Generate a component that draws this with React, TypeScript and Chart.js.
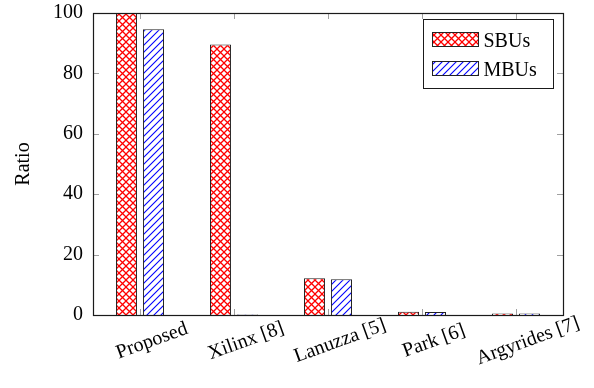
import React, { useEffect, useRef } from "react";
import { Chart, registerables } from "chart.js";

Chart.register(...registerables);

const categories = ["Proposed", "Xilinx [8]", "Lanuzza [5]", "Park [6]", "Argyrides [7]"];
const sbuValues = [100, 89.6, 12.2, 1.1, 0.5];
const mbuValues = [94.6, 0.15, 11.8, 1.0, 0.5];
const yTicks = [0, 20, 40, 60, 80, 100];
const seriesNames = ["SBUs", "MBUs"];
const yTitle = "Ratio";

const FONT = "'Liberation Serif', 'Times New Roman', serif";

function makeCrossPattern(): CanvasPattern | string {
  const c = document.createElement("canvas");
  const s = 7;
  c.width = s;
  c.height = s;
  const g = c.getContext("2d")!;
  g.fillStyle = "#ffffff";
  g.fillRect(0, 0, s, s);
  g.strokeStyle = "#ff0000";
  g.lineWidth = 1.3;
  g.beginPath();
  g.moveTo(-1, -1);
  g.lineTo(s + 1, s + 1);
  g.moveTo(s + 1, -1);
  g.lineTo(-1, s + 1);
  g.stroke();
  return g.createPattern(c, "repeat") || "#ff0000";
}

function makeDiagPattern(): CanvasPattern | string {
  const c = document.createElement("canvas");
  const s = 7;
  c.width = s;
  c.height = s;
  const g = c.getContext("2d")!;
  g.fillStyle = "#ffffff";
  g.fillRect(0, 0, s, s);
  g.strokeStyle = "#0000ff";
  g.lineWidth = 1.1;
  g.beginPath();
  g.moveTo(-1, s + 1);
  g.lineTo(s + 1, -1);
  g.moveTo(-2, 2);
  g.lineTo(2, -2);
  g.moveTo(s - 2, s + 2);
  g.lineTo(s + 2, s - 2);
  g.stroke();
  return g.createPattern(c, "repeat") || "#0000ff";
}

const framePlugin = {
  id: "frameTicks",
  afterDatasetsDraw(chart: any) {
    const { ctx, chartArea } = chart;
    const { left, right, top, bottom } = chartArea;
    const y = chart.scales.y;
    const x = chart.scales.x;
    ctx.save();
    ctx.strokeStyle = "#a0a0a0";
    ctx.lineWidth = 1;
    const tl = 6;
    ctx.beginPath();
    yTicks.forEach((v) => {
      const py = Math.round(y.getPixelForValue(v)) + 0.5;
      ctx.moveTo(left, py);
      ctx.lineTo(left + tl, py);
      ctx.moveTo(right, py);
      ctx.lineTo(right - tl, py);
    });
    categories.forEach((_, i) => {
      const px = Math.round(x.getPixelForTick(i)) + 0.5;
      ctx.moveTo(px, bottom);
      ctx.lineTo(px, bottom - tl);
      ctx.moveTo(px, top);
      ctx.lineTo(px, top + tl);
    });
    ctx.stroke();
    ctx.strokeStyle = "#1a1a1a";
    ctx.lineWidth = 1.2;
    ctx.strokeRect(Math.round(left) + 0.5, Math.round(top) + 0.5, Math.round(right - left), Math.round(bottom - top));
    ctx.restore();

    // x labels (rotated, centered)
    ctx.save();
    ctx.fillStyle = "#000";
    ctx.font = `20px ${FONT}`;
    ctx.textAlign = "center";
    ctx.textBaseline = "middle";
    categories.forEach((lab, i) => {
      const px = x.getPixelForTick(i);
      ctx.save();
      ctx.translate(px + 12, bottom + 26);
      ctx.rotate((-20 * Math.PI) / 180);
      ctx.fillText(lab, 0, 0);
      ctx.restore();
    });
    ctx.restore();
  },
  afterDraw(chart: any) {
    const { ctx, chartArea } = chart;
    const bx = Math.round(chartArea.right) - 140 + 0.5;
    const by = Math.round(chartArea.top) + 6 + 0.5;
    const bw = 130;
    const bh = 69;
    ctx.save();
    ctx.fillStyle = "#fff";
    ctx.fillRect(bx, by, bw, bh);
    ctx.strokeStyle = "#1a1a1a";
    ctx.lineWidth = 1;
    ctx.strokeRect(bx, by, bw, bh);
    chart.data.datasets.forEach((ds: any, i: number) => {
      const sy = by + 13 + i * 29;
      ctx.fillStyle = ds.backgroundColor;
      ctx.fillRect(bx + 9, sy, 46, 14);
      ctx.strokeStyle = "#222";
      ctx.strokeRect(bx + 9, sy, 46, 14);
      ctx.fillStyle = "#000";
      ctx.font = `20px ${FONT}`;
      ctx.textAlign = "left";
      ctx.textBaseline = "alphabetic";
      ctx.fillText(ds.label, bx + 60, sy + 14);
    });
    ctx.restore();
  },
};

export default function App() {
  const ref = useRef<HTMLCanvasElement>(null);
  useEffect(() => {
    document.body.style.margin = "0";
    const canvas = ref.current!;
    const chart = new Chart(canvas, {
      type: "bar",
      data: {
        labels: categories,
        datasets: [
          {
            label: seriesNames[0],
            data: sbuValues,
            backgroundColor: makeCrossPattern() as any,
            borderColor: "#222",
            borderWidth: 1,
            categoryPercentage: 0.574,
            barPercentage: 0.78,
          },
          {
            label: seriesNames[1],
            data: mbuValues,
            backgroundColor: makeDiagPattern() as any,
            borderColor: "#222",
            borderWidth: 1,
            categoryPercentage: 0.574,
            barPercentage: 0.78,
          },
        ],
      },
      options: {
        responsive: false,
        animation: false,
        devicePixelRatio: 1,
        layout: { padding: { top: 13, right: 31, left: 0, bottom: 0 } },
        plugins: { legend: { display: false }, tooltip: { enabled: false } },
        scales: {
          x: {
            grid: { display: false, drawTicks: false },
            border: { display: false },
            ticks: { display: false },
            afterFit: (s: any) => {
              s.height = 73;
              s.paddingLeft = 0;
              s.paddingRight = 0;
            },
          },
          y: {
            min: 0,
            max: 100,
            grid: { display: false, drawTicks: false },
            border: { display: false },
            afterBuildTicks: (s: any) => {
              s.ticks = yTicks.map((v) => ({ value: v }));
            },
            ticks: {
              color: "#000",
              padding: 10,
              font: { family: FONT, size: 20 },
            },
            title: {
              display: true,
              text: yTitle,
              color: "#000",
              font: { family: FONT, size: 20 },
              padding: { top: 12, bottom: 0 },
            },
            afterFit: (s: any) => {
              s.width = 93;
              s.paddingTop = 0;
              s.paddingBottom = 0;
            },
          },
        },
      },
      plugins: [framePlugin],
    });
    return () => chart.destroy();
  }, []);
  return (
    <div style={{ width: 594, height: 388 }}>
      <canvas ref={ref} width={594} height={388} style={{ display: "block" }} />
    </div>
  );
}
